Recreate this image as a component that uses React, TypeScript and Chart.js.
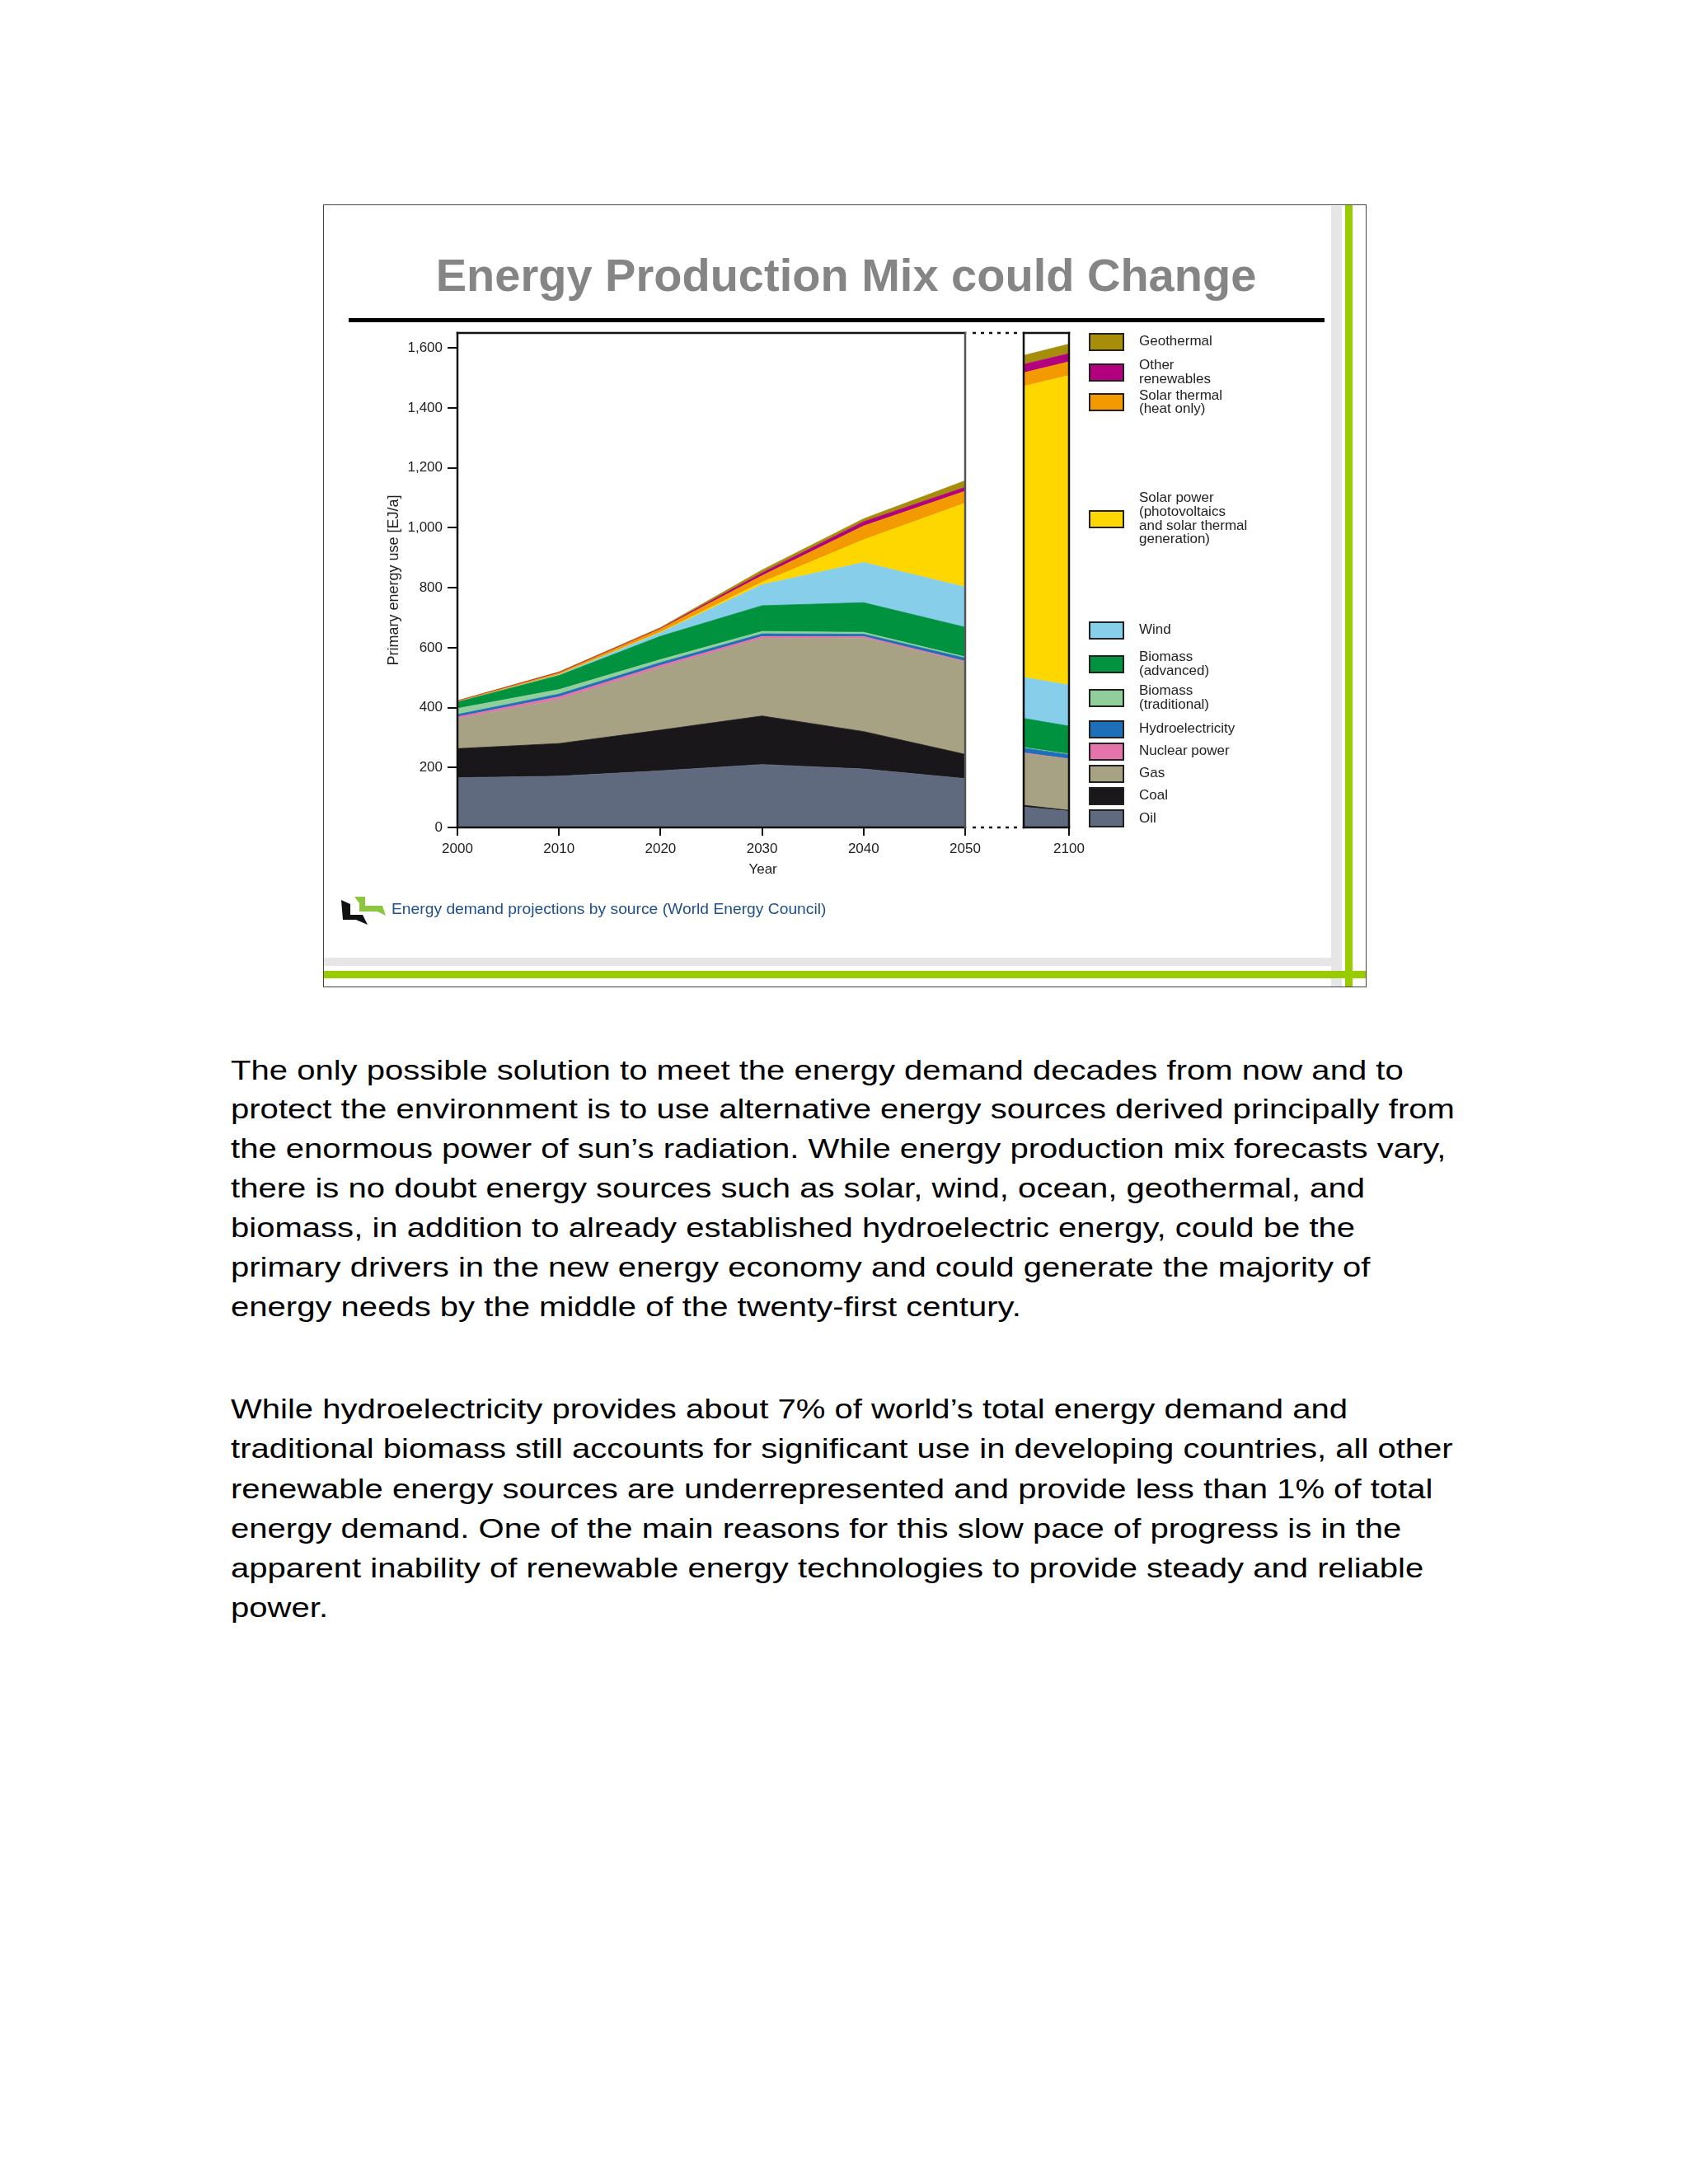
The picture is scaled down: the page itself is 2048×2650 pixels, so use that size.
import React, { useEffect, useRef } from "react";
import { Chart, registerables } from "chart.js";

Chart.register(...registerables);

// ---------------- DATA ----------------
const years = [2000, 2010, 2020, 2030, 2040, 2050];
const panelYears = [2095, 2100];
const xTickValues = [2000, 2010, 2020, 2030, 2040, 2050];
const panelTickValues = [2100];
const yTickValues = [0, 200, 400, 600, 800, 1000, 1200, 1400, 1600];

const seriesNames = [
  "Oil",
  "Coal",
  "Gas",
  "Nuclear power",
  "Hydroelectricity",
  "Biomass (traditional)",
  "Biomass (advanced)",
  "Wind",
  "Solar power (photovoltaics and solar thermal generation)",
  "Solar thermal (heat only)",
  "Other renewables",
  "Geothermal",
];
const seriesColors = [
  "#606a7e",
  "#1a171b",
  "#a6a283",
  "#e574aa",
  "#1d6fb8",
  "#90cf9c",
  "#00923f",
  "#87ceeb",
  "#ffd700",
  "#f39a00",
  "#b3007f",
  "#a68d0a",
];

// 2000-2050 (EJ/a)
const oil = [166, 171, 189, 210, 195, 163];
const coal = [97, 109, 136, 162, 125, 81];
const gas = [99, 147, 208, 258, 312, 308];
const nuclear = [7, 9, 8, 7, 5, 3];
const hydro = [8, 9, 9, 9, 8, 10];
const biomassTraditional = [20, 15, 10, 8, 6, 4];
const biomassAdvanced = [21, 47, 78, 86, 99, 99];
const wind = [0, 2, 12, 70, 134, 134];
const solarPower = [0, 1, 2, 8, 76, 280];
const solarThermal = [3, 5, 10, 22, 46, 40];
const otherRenewables = [1, 2, 2, 9, 14, 13];
const geothermal = [1, 2, 3, 10, 10, 22];

// 2100 inset (left edge, right edge)
const oil2100 = [68, 54];
const coal2100 = [6, 3];
const gas2100 = [173, 171];
const nuclear2100 = [2, 1];
const hydro2100 = [16, 14];
const biomassTraditional2100 = [2, 2];
const biomassAdvanced2100 = [97, 93];
const wind2100 = [137, 137];
const solarPower2100 = [971, 1033];
const solarThermal2100 = [45, 46];
const otherRenewables2100 = [28, 27];
const geothermal2100 = [30, 32];

const mainSeries = [oil, coal, gas, nuclear, hydro, biomassTraditional, biomassAdvanced, wind, solarPower, solarThermal, otherRenewables, geothermal];
const panelSeries = [oil2100, coal2100, gas2100, nuclear2100, hydro2100, biomassTraditional2100, biomassAdvanced2100, wind2100, solarPower2100, solarThermal2100, otherRenewables2100, geothermal2100];

const legendLabels = [
  "Geothermal",
  "Other\nrenewables",
  "Solar thermal\n(heat only)",
  "Solar power\n(photovoltaics\nand solar thermal\ngeneration)",
  "Wind",
  "Biomass\n(advanced)",
  "Biomass\n(traditional)",
  "Hydroelectricity",
  "Nuclear power",
  "Gas",
  "Coal",
  "Oil",
];
const legendSeriesIndex = [11, 10, 9, 8, 7, 6, 5, 4, 3, 2, 1, 0];

const yMax = 1650;

// ---------------- LAYOUT ----------------
const FONT = '"Liberation Sans", Arial, Helvetica, sans-serif';
const legendCenters = [414.6, 451.5, 488.4, 629.5, 764.5, 806, 847, 884.5, 911.5, 938.5, 965.5, 993];

const para1 = [
  "The only possible solution to meet the energy demand decades from now and to",
  "protect the environment is to use alternative energy sources derived principally from",
  "the enormous power of sun\u2019s radiation. While energy production mix forecasts vary,",
  "there is no doubt energy sources such as solar, wind, ocean, geothermal, and",
  "biomass, in addition to already established hydroelectric energy, could be the",
  "primary drivers in the new energy economy and could generate the majority of",
  "energy needs by the middle of the twenty-first century.",
];
const para2 = [
  "While hydroelectricity provides about 7% of world\u2019s total energy demand and",
  "traditional biomass still accounts for significant use in developing countries, all other",
  "renewable energy sources are underrepresented and provide less than 1% of total",
  "energy demand. One of the main reasons for this slow pace of progress is in the",
  "apparent inability of renewable energy technologies to provide steady and reliable",
  "power.",
];

const framePlugin = {
  id: "frame",
  afterDraw(chart: any, _args: any, opts: any) {
    const { ctx, chartArea: a } = chart;
    ctx.save();
    ctx.lineWidth = 2.5;
    ctx.lineCap = "square";
    const line = (x1: number, y1: number, x2: number, y2: number, c: string) => {
      ctx.strokeStyle = c;
      ctx.beginPath();
      ctx.moveTo(x1, y1);
      ctx.lineTo(x2, y2);
      ctx.stroke();
    };
    line(a.left, a.top, a.right, a.top, "#111");
    line(a.left, a.top, a.left, a.bottom, "#111");
    line(a.left, a.bottom, a.right, a.bottom, "#111");
    line(a.right, a.top, a.right, a.bottom, opts.rightColor || "#111");
    ctx.restore();
  },
};

function buildDatasets(xs: number[], series: number[][]) {
  return series.map((vals, i) => ({
    label: seriesNames[i],
    data: xs.map((x, j) => ({ x, y: vals[j] })),
    backgroundColor: seriesColors[i],
    borderColor: seriesColors[i],
    borderWidth: 0.8,
    pointRadius: 0,
    tension: 0,
    fill: i === 0 ? "origin" : "-1",
  }));
}

const tickFont = { family: FONT, size: 17 };

function StackChart(props: {
  xs: number[];
  series: number[][];
  ticks: number[];
  left: number;
  top: number;
  width: number;
  height: number;
  padding: any;
  main: boolean;
}) {
  const ref = useRef<HTMLCanvasElement | null>(null);
  useEffect(() => {
    if (!ref.current) return;
    const { xs, series, ticks, main } = props;
    const chart = new Chart(ref.current, {
      type: "line",
      data: { datasets: buildDatasets(xs, series) as any },
      plugins: [framePlugin as any],
      options: {
        responsive: false,
        animation: false,
        events: [],
        layout: { padding: props.padding },
        plugins: {
          legend: { display: false },
          tooltip: { enabled: false },
          frame: { rightColor: main ? "#555" : "#111" },
        } as any,
        scales: {
          x: {
            type: "linear",
            min: xs[0],
            max: xs[xs.length - 1],
            border: { display: false },
            grid: {
              display: true,
              drawOnChartArea: false,
              drawTicks: true,
              tickLength: 10,
              color: "#111",
              lineWidth: 2,
            },
            ticks: {
              font: tickFont,
              color: "#222",
              padding: 6,
              maxRotation: 0,
              callback: (v: any) => String(v),
            },
            afterBuildTicks: (s: any) => {
              s.ticks = ticks.map((v) => ({ value: v }));
            },
            afterFit: (s: any) => {
              s.height = 52;
              s.paddingLeft = 0;
              s.paddingRight = 0;
            },
          },
          y: {
            type: "linear",
            stacked: true,
            min: 0,
            max: yMax,
            display: main,
            border: { display: false },
            grid: {
              display: true,
              drawOnChartArea: false,
              drawTicks: true,
              tickLength: 12,
              color: "#111",
              lineWidth: 2,
            },
            ticks: {
              font: tickFont,
              color: "#222",
              padding: 6,
              callback: (v: any) => Number(v).toLocaleString("en-US"),
            },
            title: {
              display: true,
              text: "Primary energy use [EJ/a]",
              font: { family: FONT, size: 18 },
              color: "#222",
              padding: { top: 0, bottom: 0 },
            },
            afterBuildTicks: (s: any) => {
              s.ticks = yTickValues.map((v) => ({ value: v }));
            },
            afterFit: (s: any) => {
              if (main) s.width = 88;
              s.paddingTop = 0;
              s.paddingBottom = 0;
            },
          },
        },
      } as any,
    });
    return () => chart.destroy();
  }, []);
  return (
    <canvas
      ref={ref}
      width={props.width}
      height={props.height}
      style={{ position: "absolute", left: props.left, top: props.top, width: props.width, height: props.height }}
    />
  );
}

function Txt(props: { x: number; baseline: number; size: number; children: any; style?: any }) {
  const { x, baseline, size } = props;
  return (
    <div
      style={{
        position: "absolute",
        left: x,
        top: baseline - size * 0.8465,
        fontSize: size,
        lineHeight: size + "px",
        whiteSpace: "nowrap",
        fontFamily: FONT,
        ...props.style,
      }}
    >
      {props.children}
    </div>
  );
}

export default function App() {
  return (
    <div style={{ position: "absolute", left: 0, top: 0, width: 2048, height: 2650, background: "#fff", fontFamily: FONT }}>
      {/* slide frame */}
      <div style={{ position: "absolute", left: 392, top: 248, width: 1266, height: 950, border: "1px solid #444", boxSizing: "border-box" }} />
      <div style={{ position: "absolute", left: 1615, top: 250, width: 13, height: 947, background: "#e6e6e6" }} />
      <div style={{ position: "absolute", left: 393, top: 1162, width: 1222, height: 10, background: "#e6e6e6" }} />
      <div style={{ position: "absolute", left: 1632, top: 249, width: 9, height: 948, background: "#99cc00" }} />
      <div style={{ position: "absolute", left: 393, top: 1178, width: 1264, height: 9, background: "#99cc00" }} />

      {/* slide title */}
      <Txt x={26.5} baseline={353} size={56} style={{ width: 2000, textAlign: "center", fontWeight: "bold", color: "#858585" }}>
        Energy Production Mix could Change
      </Txt>
      <div style={{ position: "absolute", left: 423, top: 386, width: 1184, height: 5, background: "#000" }} />

      {/* charts */}
      <StackChart xs={years} series={mainSeries} ticks={xTickValues} left={467} top={396} width={748} height={660} padding={{ top: 8, right: 44, left: 0, bottom: 0 }} main={true} />
      <StackChart xs={panelYears} series={panelSeries} ticks={panelTickValues} left={1230} top={396} width={90} height={660} padding={{ top: 8, right: 23, left: 12, bottom: 0 }} main={false} />

      {/* break connectors */}
      <svg style={{ position: "absolute", left: 0, top: 0 }} width={2048} height={1100}>
        <line x1={1180} y1={404} x2={1238} y2={404} stroke="#111" strokeWidth={2.5} strokeDasharray="4 6" />
        <line x1={1180} y1={1004} x2={1238} y2={1004} stroke="#111" strokeWidth={2.5} strokeDasharray="4 6" />
      </svg>

      <Txt x={875.6} baseline={1060} size={17} style={{ width: 100, textAlign: "center", color: "#222" }}>
        Year
      </Txt>

      {/* legend */}
      {legendLabels.map((lab, i) => (
        <React.Fragment key={i}>
          <div
            style={{
              position: "absolute",
              left: 1321,
              top: legendCenters[i] - 11,
              width: 43,
              height: 22,
              background: seriesColors[legendSeriesIndex[i]],
              border: "2px solid #222",
              boxSizing: "border-box",
            }}
          />
          <div
            style={{
              position: "absolute",
              left: 1382,
              top: legendCenters[i] - 40,
              height: 80,
              display: "flex",
              alignItems: "center",
              fontFamily: FONT,
              fontSize: 17,
              lineHeight: "16.8px",
              color: "#222",
              whiteSpace: "pre-line",
            }}
          >
            {lab}
          </div>
        </React.Fragment>
      ))}

      {/* source caption */}
      <svg style={{ position: "absolute", left: 410, top: 1084 }} width={62} height={44}>
        <polygon points="4,8 15,13 15,26 30,26 36,38 22,32 6,32" fill="#111" />
        <polygon points="20,4 33,4 33,15 54,15 58,27 48,22 26,22 26,12" fill="#8cc63f" />
      </svg>
      <Txt x={475} baseline={1109.3} size={18} style={{ color: "#1d4f8f", transform: "scaleX(1.07)", transformOrigin: "left center" }}>
        Energy demand projections by source (World Energy Council)
      </Txt>

      {/* body text */}
      {para1.map((l, i) => (
        <Txt key={"a" + i} x={280} baseline={1309.3 + 47.9 * i} size={34} style={{ color: "#000", transform: "scaleX(1.178)", transformOrigin: "left center" }}>
          {l}
        </Txt>
      ))}
      {para2.map((l, i) => (
        <Txt key={"b" + i} x={280} baseline={1720.7 + 48.3 * i} size={34} style={{ color: "#000", transform: "scaleX(1.178)", transformOrigin: "left center" }}>
          {l}
        </Txt>
      ))}
    </div>
  );
}
